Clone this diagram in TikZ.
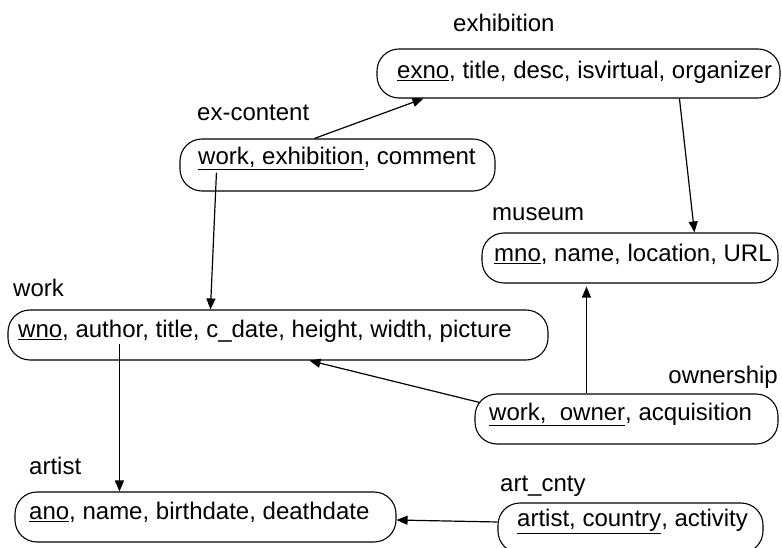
\documentclass[tikz,border=0pt]{standalone}
\usepackage{fontspec}
\setmainfont{Liberation Sans}
\usetikzlibrary{arrows.meta}
\begin{document}
\begin{tikzpicture}[x=1pt,y=-1pt,
  relbox/.style={draw, line width=1.1pt, rounded corners=22pt, inner sep=0pt},
  attrs/.style={inner sep=0pt, anchor=mid west, font=\fontsize{24}{28}\selectfont},
  relname/.style={inner sep=0pt, anchor=mid west, font=\fontsize{24}{28}\selectfont},
  fk/.style={line width=1.2pt, -{Triangle[length=11pt,width=9pt]}}]
\useasboundingbox (0,0) rectangle (782,548);

% relation boxes
\node[relbox, minimum width=403pt, minimum height=49pt] (exh) at (578.5,73.5) {};
\node[relbox, minimum width=315pt, minimum height=52pt] (exc) at (337.5,165) {};
\node[relbox, minimum width=296pt, minimum height=50pt] (mus) at (630,258) {};
\node[relbox, minimum width=540pt, minimum height=50pt] (wrk) at (278,335) {};
\node[relbox, minimum width=303pt, minimum height=50pt] (own) at (626.5,419) {};
\node[relbox, minimum width=381pt, minimum height=50pt] (art) at (205.5,517) {};
\node[relbox, minimum width=265pt, minimum height=50pt] (acn) at (630.5,528) {};

% attribute lists (keys underlined)
\node[attrs] (exht) at (397,76) {\underline{exno}, title, desc, isvirtual, organizer};
\node[attrs] (exct) at (198,162) {\underline{work, exhibition}, comment};
\node[attrs] (must) at (494,259) {\underline{mno}, name, location, URL};
\node[attrs] (wrkt) at (18,335) {\underline{wno}, author, title, c\_date, height, width, picture};
\node[attrs] (ownt) at (489,418) {\underline{work,\ \ owner}, acquisition};
\node[attrs] (artt) at (29,517) {\underline{ano}, name, birthdate, deathdate};
\node[attrs] (acnt) at (517,524) {\underline{artist, country}, activity};

% relation names
\node[relname] (exhl) at (453,29) {exhibition};
\node[relname] (excl) at (197,118) {ex-content};
\node[relname] (musl) at (492,218) {museum};
\node[relname] (wrkl) at (13,294) {work};
\node[relname, anchor=mid east] (ownl) at (778,381) {ownership};
\node[relname] (artl) at (29,472) {artist};
\node[relname] (acnl) at (500,489) {art\_cnty};

% foreign key references
\draw[fk] ([xshift=135pt]exc.north west) -- ([xshift=47pt]exh.south west);
\draw[fk] ([xshift=303pt]exh.south west) -- ([xshift=213pt]mus.north west);
\draw[fk] ([xshift=37pt,yshift=19pt]exc.south west) -- ([xshift=203pt]wrk.north west);
\draw[fk] ([xshift=112pt,yshift=17pt]wrk.south west) -- ([xshift=105pt]art.north west);
\draw[fk, shorten >=3pt] ([xshift=112pt]own.north west) -- ([xshift=105pt]mus.south west);
\draw[fk] ([xshift=5pt,yshift=-9pt]own.north west) -- ([xshift=302pt]wrk.south west);
\draw[fk] ([yshift=6pt]acn.west) -- ([yshift=-3pt]art.east);
\end{tikzpicture}
\end{document}
